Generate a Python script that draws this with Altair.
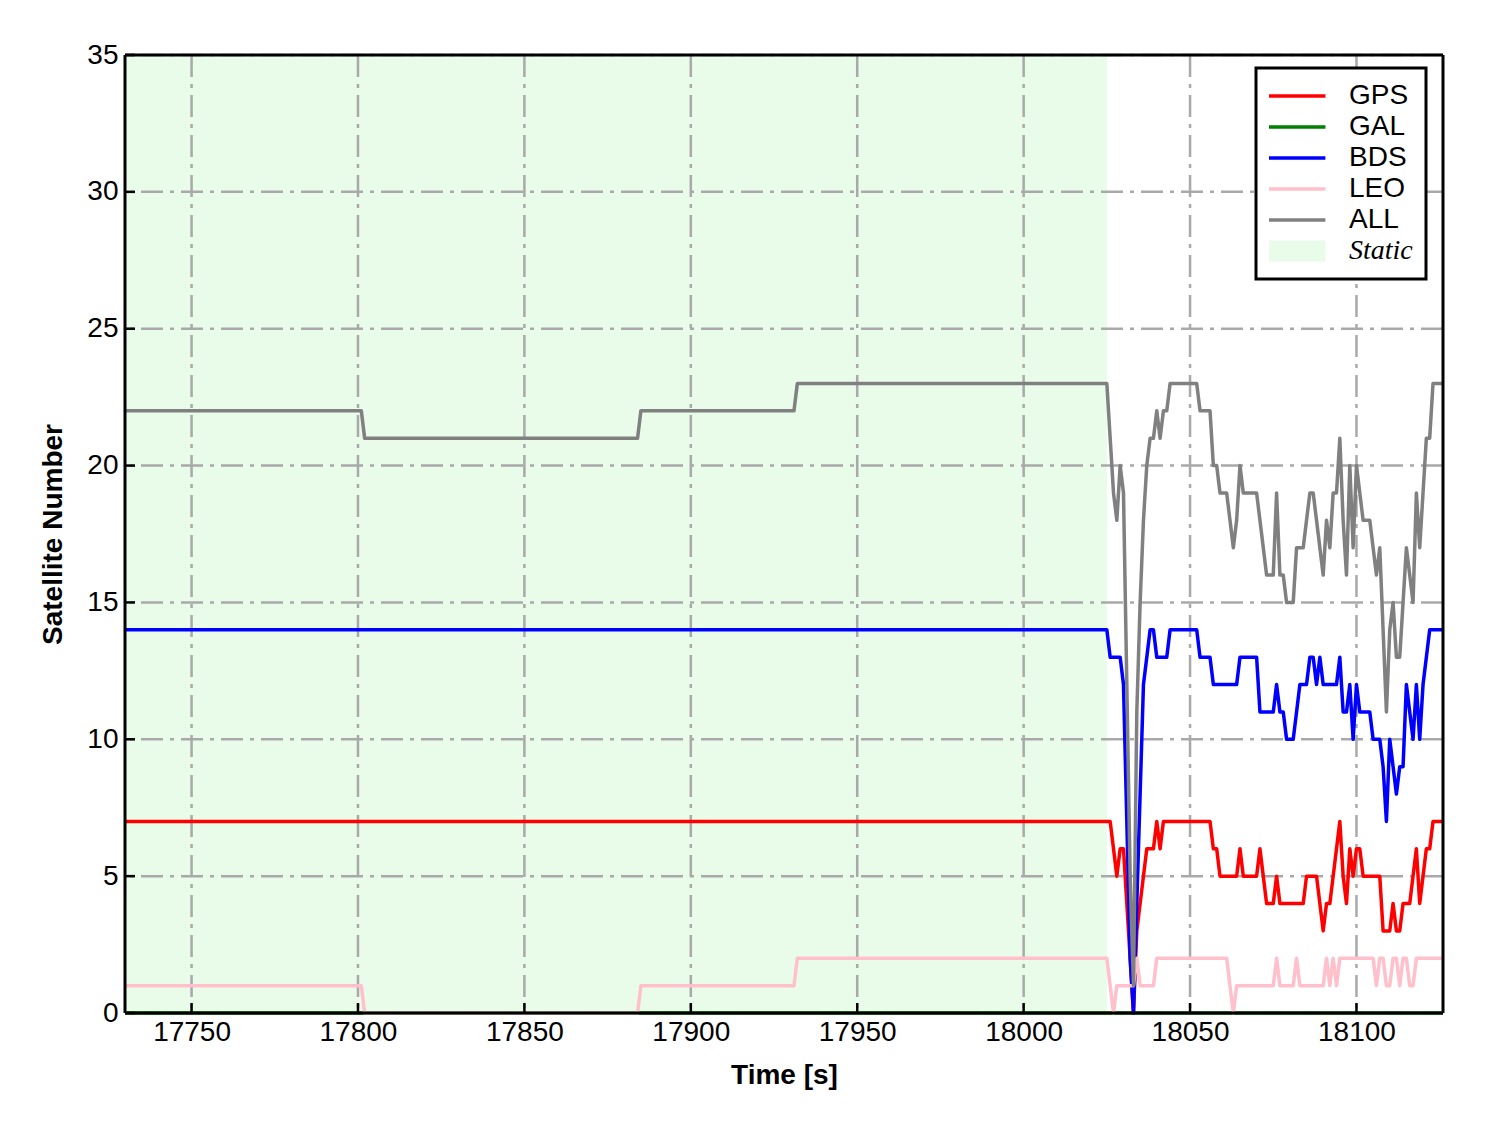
import altair as alt
import pandas as pd

# ---------------- data ----------------
series_names = ["GPS", "GAL", "BDS", "LEO", "ALL"]
series_colors = ["#ff0000", "#008000", "#0000ff", "#ffc0cb", "#808080"]
static_label = "Static"
static_color = "#E9FCE9"

# static period: change points only (values constant between them)
static_times = [17730, 17801, 17802, 17884, 17885, 17931, 17932]
gps_static = [7, 7, 7, 7, 7, 7, 7]
bds_static = [14, 14, 14, 14, 14, 14, 14]
leo_static = [1, 1, 0, 0, 1, 1, 2]
all_static = [22, 22, 21, 21, 22, 22, 23]

# kinematic period: 1 Hz samples 18025 .. 18126
dyn_times = list(range(18025, 18127))
gps_dyn = [7, 7, 6, 5, 6, 6, 4, 2, 0, 3, 4, 5, 6, 6, 6, 7, 6, 7,
           7, 7, 7, 7, 7, 7, 7, 7, 7, 7, 7, 7, 7, 7,
           6, 6, 5, 5, 5, 5, 5, 5, 6, 5, 5, 5, 5, 5,
           6, 5, 4, 4, 4, 5, 4, 4, 4, 4, 4, 4, 4, 4, 5, 5, 5, 5,
           4, 3, 4, 4, 5, 6, 7, 5, 4, 6, 5, 6, 6, 5,
           5, 5, 5, 5, 5,
           3, 3, 3, 4, 3, 3, 4, 4, 4, 5, 6, 4, 5, 6, 6,
           7, 7, 7, 7]
bds_dyn = [14, 13, 13, 13, 13, 12, 7, 2, 0, 4, 8, 12, 13, 14, 14, 13, 13, 13, 13,
           14, 14, 14, 14, 14, 14, 14, 14, 14,
           13, 13, 13, 13,
           12, 12, 12, 12, 12, 12, 12, 12,
           13, 13, 13, 13, 13, 13,
           11, 11, 11, 11, 11, 12, 11, 11, 10, 10, 10, 11, 12, 12, 12, 13, 13, 12,
           13, 12, 12, 12, 12, 12, 13, 11, 11, 12, 10, 12, 11, 11, 11, 11, 10, 10,
           10, 9, 7, 10, 9, 8, 9, 9, 12, 11, 10, 12, 10, 12, 13, 14,
           14, 14, 14, 14]
leo_dyn = [2, 1, 0, 1, 1, 1, 1, 1, 1, 2, 1, 1, 1, 1, 1,
           2, 2, 2, 2, 2, 2, 2, 2, 2, 2, 2, 2, 2, 2, 2, 2, 2, 2, 2, 2, 2, 2,
           1, 0, 1,
           1, 1, 1, 1, 1, 1, 1, 1, 1, 1, 1,
           2, 1, 1, 1, 1, 1, 2, 1, 1, 1, 1, 1, 1, 1, 1,
           2, 1, 2, 1, 2,
           2, 2, 2, 2, 2, 2, 2, 2, 2, 2,
           1, 2, 2, 1, 1, 2, 2, 1, 2, 2, 1, 1, 2,
           2, 2, 2, 2, 2, 2, 2, 2]
all_dyn = [23, 21, 19, 18, 20, 19, 12, 5, 1, 11, 15, 18, 20, 21, 21, 22, 21, 22, 22,
           23, 23, 23, 23, 23, 23, 23, 23, 23,
           22, 22, 22, 22,
           20, 20, 19, 19, 19, 18, 17, 18,
           20, 19, 19, 19, 19, 19,
           18, 17, 16, 16, 16, 19, 16, 16, 15, 15, 15, 17, 17, 17, 18, 19, 19, 18,
           17, 16, 18, 17, 19, 19, 21, 18, 16, 20, 17, 20, 19, 18, 18, 18, 17, 16,
           17, 14, 11, 14, 15, 13, 13, 15, 17, 16, 15, 19, 17, 19, 21, 21,
           23, 23, 23, 23]
gal_times = [17730, 18126]
gal_vals = [0, 0]

static_span = [17730, 18025]
x_domain = [17730, 18126]
y_domain = [0, 35]
x_ticks = [17750, 17800, 17850, 17900, 17950, 18000, 18050, 18100]
y_ticks = [0, 5, 10, 15, 20, 25, 30, 35]

# ---------------- tables ----------------
rows = []
t_all = static_times + dyn_times
for name, vals in [("GPS", gps_static + gps_dyn), ("GAL", None),
                   ("BDS", bds_static + bds_dyn), ("LEO", leo_static + leo_dyn),
                   ("ALL", all_static + all_dyn)]:
    if vals is None:
        for t, v in zip(gal_times, gal_vals):
            rows.append({"t": t, "v": v, "series": name})
    else:
        for t, v in zip(t_all, vals):
            rows.append({"t": t, "v": v, "series": name})
lines_df = pd.DataFrame(rows)
lines_df["order"] = lines_df["series"].map({n: i for i, n in enumerate(series_names)})

static_df = pd.DataFrame({"start": [static_span[0]], "end": [static_span[1]],
                          "lo": [y_domain[0]], "hi": [y_domain[1]]})
xt_df = pd.DataFrame({"t": x_ticks})
yt_df = pd.DataFrame({"v": y_ticks})
frame_x_df = pd.DataFrame({"t": x_domain})
frame_y_df = pd.DataFrame({"v": y_domain})

# ---------------- chart ----------------
W, H = 1318, 958
FONT = "Liberation Sans"
xs = alt.Scale(domain=x_domain, nice=False, zero=False)
ys = alt.Scale(domain=y_domain, nice=False, zero=False)

x_axis = alt.Axis(values=x_ticks, format="d", grid=False, ticks=False, tickSize=0,
                  domain=False, labelFontSize=28, labelPadding=5, title="Time [s]",
                  titleFontSize=28, titleFontWeight="bold", titlePadding=15,
                  labelFlush=False)
y_axis = alt.Axis(values=y_ticks, grid=False, ticks=False, tickSize=0, domain=False,
                  labelFontSize=28, labelPadding=7, title="Satellite Number",
                  titleFontSize=28, titleFontWeight="bold", titlePadding=19,
                  labelFlush=False)

shade = alt.Chart(static_df).mark_rect(color=static_color).encode(
    x=alt.X("start:Q", scale=xs, axis=x_axis),
    x2="end:Q",
    y=alt.Y("lo:Q", scale=ys, axis=y_axis),
    y2="hi:Q",
)

grid_style = dict(color="#a9a9a9", strokeWidth=2.5, strokeDash=[22, 7, 4, 7])
gx = alt.Chart(xt_df).mark_rule(**grid_style).encode(x=alt.X("t:Q", scale=xs))
gy = alt.Chart(yt_df).mark_rule(**grid_style).encode(y=alt.Y("v:Q", scale=ys))

legend = alt.Legend(
    title=None, orient="none", legendX=1131, legendY=13,
    symbolType="stroke", symbolSize=7200,
    symbolStrokeWidth={"expr": "datum.value === 'Static' ? 21 : 3.5"},
    labelFont={"expr": "datum.value === 'Static' ? 'Liberation Serif' : 'Liberation Sans'"},
    labelFontStyle={"expr": "datum.value === 'Static' ? 'italic' : 'normal'"},
    labelFontSize=28, labelOffset=52, labelColor="black",
    padding=13, strokeColor="black", fillColor="white",
    clipHeight=30, rowPadding=1,
)

lines = alt.Chart(lines_df).mark_line(strokeWidth=3.5, strokeJoin="round").encode(
    x=alt.X("t:Q", scale=xs),
    y=alt.Y("v:Q", scale=ys),
    color=alt.Color("series:N",
                    scale=alt.Scale(domain=series_names + [static_label],
                                    range=series_colors + [static_color]),
                    legend=legend),
    order="order:Q",
)

tick_style = dict(color="black", strokeWidth=2.5)
tx = alt.Chart(xt_df).mark_rule(**tick_style).encode(
    x=alt.X("t:Q", scale=xs), y=alt.value(H), y2=alt.value(H - 10))
ty = alt.Chart(yt_df).mark_rule(**tick_style).encode(
    y=alt.Y("v:Q", scale=ys), x=alt.value(0), x2=alt.value(10))

frame_style = dict(color="black", strokeWidth=3)
fx = alt.Chart(frame_x_df).mark_rule(**frame_style).encode(x=alt.X("t:Q", scale=xs))
fy = alt.Chart(frame_y_df).mark_rule(**frame_style).encode(y=alt.Y("v:Q", scale=ys))

chart = alt.layer(shade, gx, gy, lines, tx, ty, fx, fy).properties(
    width=W, height=H,
    autosize=alt.AutoSizeParams(type="none"),
    padding={"left": 117, "top": 47, "right": 37, "bottom": 110},
).configure_view(
    stroke=None
).configure_axis(
    labelFont=FONT, titleFont=FONT, labelColor="black", titleColor="black"
).configure_legend(
    strokeWidth=3, cornerRadius=0
)

chart.save("out.html", embed_options={"renderer": "svg", "actions": False})
